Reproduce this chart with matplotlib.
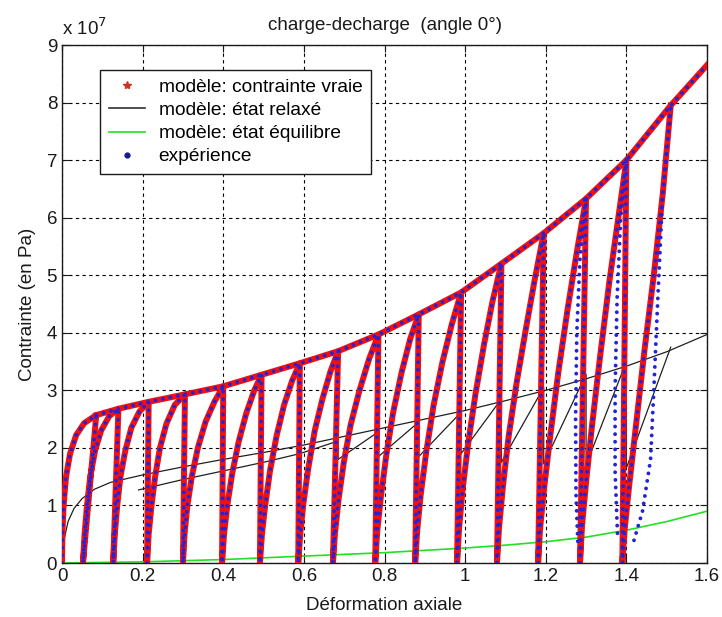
import matplotlib
matplotlib.use('Agg')
import matplotlib.pyplot as plt
from matplotlib.lines import Line2D

plt.rcParams['font.family'] = ['Liberation Sans', 'DejaVu Sans']

# ---- data (stress in units of 1e7 Pa) ----
peak_strain = [0.085, 0.14, 0.215, 0.305, 0.40, 0.495, 0.59, 0.685, 0.785, 0.885,
               0.99, 1.09, 1.195, 1.30, 1.40, 1.51]
peak_stress = [2.57, 2.68, 2.80, 2.93, 3.07, 3.27, 3.47, 3.68, 3.97, 4.32,
               4.70, 5.20, 5.73, 6.33, 7.00, 7.95]
end_strain = 1.60
end_stress = 8.65
residual_strain = [0.052, 0.127, 0.211, 0.300, 0.397, 0.491, 0.586, 0.672, 0.777,
                   0.876, 0.980, 1.079, 1.181, 1.285, 1.390]

reload_strain = [
    [0.000, 0.001, 0.004, 0.010, 0.020, 0.035, 0.055, 0.085],
    [0.052, 0.056, 0.062, 0.070, 0.082, 0.097, 0.117, 0.140],
    [0.127, 0.131, 0.137, 0.145, 0.157, 0.172, 0.192, 0.215],
    [0.211, 0.215, 0.222, 0.231, 0.243, 0.259, 0.280, 0.305],
    [0.300, 0.304, 0.311, 0.322, 0.337, 0.356, 0.378, 0.400],
    [0.397, 0.402, 0.410, 0.422, 0.438, 0.457, 0.477, 0.495],
    [0.491, 0.496, 0.504, 0.516, 0.532, 0.551, 0.571, 0.590],
    [0.586, 0.591, 0.599, 0.611, 0.627, 0.646, 0.666, 0.685],
    [0.672, 0.677, 0.686, 0.699, 0.716, 0.738, 0.762, 0.785],
    [0.777, 0.782, 0.791, 0.804, 0.821, 0.842, 0.864, 0.885],
    [0.876, 0.881, 0.890, 0.904, 0.922, 0.944, 0.967, 0.990],
    [0.980, 0.985, 0.994, 1.008, 1.026, 1.047, 1.068, 1.090],
    [1.079, 1.084, 1.094, 1.108, 1.127, 1.149, 1.172, 1.195],
    [1.181, 1.186, 1.196, 1.211, 1.231, 1.254, 1.277, 1.300],
    [1.285, 1.290, 1.300, 1.315, 1.335, 1.358, 1.380, 1.400],
    [1.390, 1.396, 1.407, 1.424, 1.445, 1.468, 1.490, 1.510],
]
reload_stress = [
    [0.00, 0.50, 1.00, 1.50, 1.90, 2.22, 2.43, 2.57],
    [0.00, 0.50, 1.00, 1.50, 1.95, 2.30, 2.55, 2.68],
    [0.00, 0.50, 1.00, 1.50, 1.95, 2.35, 2.63, 2.80],
    [0.00, 0.50, 1.00, 1.50, 2.00, 2.42, 2.75, 2.93],
    [0.00, 0.50, 1.00, 1.50, 2.00, 2.45, 2.80, 3.07],
    [0.00, 0.50, 1.00, 1.55, 2.10, 2.60, 3.00, 3.27],
    [0.00, 0.50, 1.00, 1.60, 2.20, 2.75, 3.17, 3.47],
    [0.00, 0.50, 1.05, 1.65, 2.30, 2.85, 3.33, 3.68],
    [0.00, 0.50, 1.10, 1.75, 2.40, 3.00, 3.55, 3.97],
    [0.00, 0.55, 1.15, 1.85, 2.60, 3.30, 3.90, 4.32],
    [0.00, 0.55, 1.20, 1.95, 2.75, 3.50, 4.15, 4.70],
    [0.00, 0.60, 1.30, 2.10, 2.95, 3.80, 4.55, 5.20],
    [0.00, 0.60, 1.35, 2.20, 3.10, 4.00, 4.90, 5.73],
    [0.00, 0.60, 1.30, 2.20, 3.30, 4.40, 5.40, 6.33],
    [0.00, 0.65, 1.40, 2.40, 3.60, 4.90, 6.00, 7.00],
    [0.00, 0.60, 1.35, 2.40, 3.70, 5.00, 6.40, 7.95],
]

# experiment: unloading branches that separate from the model (last cycles)
exp_unload_strain = [
    [1.300, 1.285, 1.277, 1.274, 1.275, 1.280],
    [1.400, 1.386, 1.377, 1.372, 1.372, 1.378],
    [1.510, 1.490, 1.478, 1.468, 1.460, 1.440, 1.415],
]
exp_unload_stress = [
    [6.33, 5.30, 4.00, 2.50, 1.20, 0.30],
    [7.00, 6.00, 4.60, 3.00, 1.60, 0.50],
    [7.90, 6.40, 4.60, 3.00, 1.80, 0.90, 0.30],
]

relaxed_strain = [0, 0.005, 0.015, 0.03, 0.05, 0.08, 0.12, 0.2, 0.3, 0.4, 0.5, 0.6,
                  0.7, 0.8, 0.9, 1.0, 1.1, 1.2, 1.3, 1.4, 1.5, 1.6]
relaxed_stress = [0, 0.4, 0.72, 0.95, 1.12, 1.28, 1.4, 1.53, 1.67, 1.8, 1.92, 2.05,
                  2.2, 2.35, 2.5, 2.65, 2.82, 3.0, 3.2, 3.42, 3.67, 3.97]
relaxed_cyc_strain = [0.19, 0.3, 0.4, 0.5, 0.59, 0.685, 0.685, 0.785, 0.785, 0.885,
                      0.885, 0.99, 0.99, 1.09, 1.09, 1.195, 1.195, 1.30, 1.30, 1.40,
                      1.40, 1.51]
relaxed_cyc_stress = [1.27, 1.45, 1.6, 1.75, 1.9, 2.12, 1.8, 2.28, 1.85, 2.45,
                      1.85, 2.62, 1.9, 2.85, 1.75, 3.05, 1.72, 3.28, 1.7, 3.5,
                      1.65, 3.75]

equil_strain = [0, 0.2, 0.4, 0.6, 0.8, 1.0, 1.1, 1.2, 1.3, 1.4, 1.5, 1.6]
equil_stress = [0, 0.02, 0.06, 0.12, 0.18, 0.26, 0.31, 0.37, 0.45, 0.57, 0.72, 0.90]

x_ticks = [0, 0.2, 0.4, 0.6, 0.8, 1.0, 1.2, 1.4, 1.6]
x_ticklabels = ['0', '0.2', '0.4', '0.6', '0.8', '1', '1.2', '1.4', '1.6']
y_ticks = [0, 1, 2, 3, 4, 5, 6, 7, 8, 9]

# ---- build paths ----
cyc_x, cyc_y = [], []
for k in range(len(reload_strain)):
    cyc_x += reload_strain[k]
    cyc_y += reload_stress[k]
    if k < len(residual_strain):
        cyc_x.append(residual_strain[k])
        cyc_y.append(0.0)
env_x = peak_strain + [end_strain]
env_y = peak_stress + [end_stress]

FS = 13.5
TXT = '#1a1a1a'
fig = plt.figure(figsize=(7.22, 6.17), dpi=100)
ax = fig.add_axes([62 / 722, 1 - 563 / 617, 645 / 722, 518 / 617])

ax.plot(relaxed_strain, relaxed_stress, color='#202020', lw=0.9, zorder=2)
ax.plot(relaxed_cyc_strain, relaxed_cyc_stress, color='#202020', lw=0.9, zorder=2)
ax.plot(equil_strain, equil_stress, color='#22e022', lw=1.2, zorder=2)

ax.plot(cyc_x, cyc_y, color='#f01010', lw=4.3, solid_joinstyle='round', zorder=3)
ax.plot(env_x, env_y, color='#f01010', lw=4.3, solid_joinstyle='round', zorder=3)

dot_style = dict(color='#2323d8', lw=2.8, linestyle=(0, (0.01, 1.95)),
                 dash_capstyle='round', zorder=4)
ax.plot(cyc_x, cyc_y, **dot_style)
ax.plot(env_x, env_y, **dot_style)
for xs, ys in zip(exp_unload_strain, exp_unload_stress):
    ax.plot(xs, ys, **dot_style)

ax.set_xlim(0, 1.6)
ax.set_ylim(0, 9)
ax.set_xticks(x_ticks)
ax.set_xticklabels(x_ticklabels)
ax.set_yticks(y_ticks)
ax.tick_params(direction='in', top=True, right=True, length=5, labelsize=FS,
               colors=TXT)
ax.grid(True, color='k', linestyle=(0, (3, 3)), lw=0.8)
for sp in ax.spines.values():
    sp.set_linewidth(1.0)
    sp.set_color(TXT)

ax.set_xlabel('Déformation axiale', fontsize=FS, color=TXT, labelpad=9)
ax.set_ylabel('Contrainte (en Pa)', fontsize=FS, color=TXT, labelpad=8)
ax.set_title('charge-decharge  (angle 0°)', fontsize=FS, color=TXT, pad=11)
ax.text(0.0, 1.012, r'x 10$^7$', transform=ax.transAxes, fontsize=FS,
        ha='left', va='bottom', color=TXT)

handles = [
    Line2D([], [], color='#cc3322', marker='*', ls='none', ms=6),
    Line2D([], [], color='#303030', lw=1.2),
    Line2D([], [], color='#22e022', lw=1.2),
    Line2D([], [], color='#1a1a90', marker='.', ls='none', ms=7),
]
labels = ['modèle: contrainte vraie', 'modèle: état relaxé',
          'modèle: état équilibre', 'expérience']
leg = ax.legend(handles, labels, loc='upper left', bbox_to_anchor=(0.059, 0.952),
                borderaxespad=0, fontsize=13.8, frameon=True, fancybox=False,
                edgecolor=TXT, framealpha=1, labelspacing=0.3,
                handlelength=1.9, handletextpad=0.7, borderpad=0.45)
leg.get_frame().set_linewidth(1.0)
leg.set_zorder(10)

fig.savefig('out.png', dpi=100)
